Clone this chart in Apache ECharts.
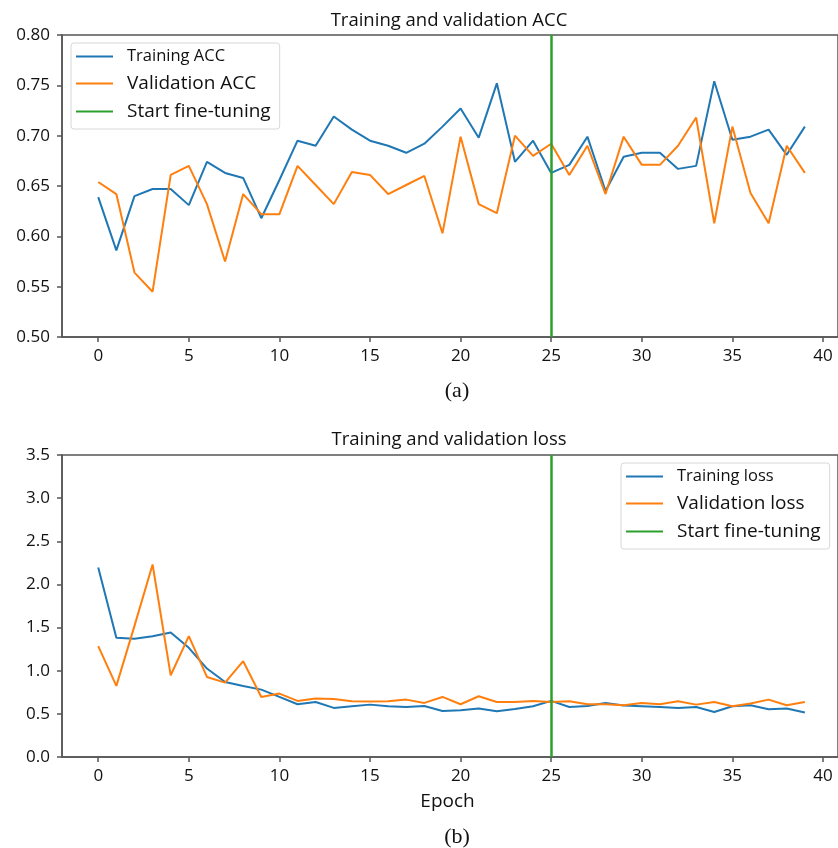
<!DOCTYPE html>
<html>
<head>
<meta charset="utf-8">
<script src="https://cdn.jsdelivr.net/npm/echarts@6/dist/echarts.min.js"></script>
<style>html,body{margin:0;padding:0;background:#fff}#c{width:838px;height:848px}</style>
</head>
<body>
<div id="c"></div>
<script>
const epochs = Array.from({length: 40}, (_, i) => i);
const trainAcc = [0.639,0.586,0.640,0.647,0.647,0.631,0.674,0.663,0.658,0.618,0.656,0.695,0.690,0.719,0.706,0.695,0.690,0.683,0.692,0.709,0.727,0.698,0.752,0.674,0.695,0.663,0.671,0.699,0.645,0.679,0.683,0.683,0.667,0.670,0.754,0.696,0.699,0.706,0.681,0.709];
const valAcc = [0.654,0.642,0.564,0.545,0.661,0.670,0.632,0.575,0.642,0.622,0.622,0.670,0.651,0.632,0.664,0.661,0.642,0.651,0.660,0.603,0.699,0.632,0.623,0.700,0.680,0.692,0.661,0.690,0.642,0.699,0.671,0.671,0.690,0.718,0.613,0.709,0.643,0.613,0.690,0.663];
const trainLoss = [2.197,1.381,1.370,1.400,1.443,1.265,1.025,0.870,0.824,0.781,0.696,0.611,0.638,0.569,0.588,0.607,0.588,0.580,0.592,0.534,0.541,0.561,0.530,0.557,0.588,0.650,0.580,0.592,0.627,0.596,0.588,0.580,0.569,0.580,0.522,0.588,0.600,0.553,0.561,0.515];
const valLoss = [1.284,0.824,1.520,2.231,0.947,1.400,0.928,0.862,1.110,0.696,0.735,0.650,0.677,0.673,0.646,0.642,0.646,0.665,0.627,0.696,0.611,0.704,0.638,0.638,0.650,0.638,0.646,0.611,0.611,0.600,0.627,0.611,0.646,0.607,0.638,0.588,0.619,0.665,0.600,0.638];
const fineTuneEpoch = 25;
const xTicks = [0,5,10,15,20,25,30,35,40];
const accTicks = [0.50,0.55,0.60,0.65,0.70,0.75,0.80];
const lossTicks = [0.0,0.5,1.0,1.5,2.0,2.5,3.0,3.5];
const titles = ['Training and validation ACC', 'Training and validation loss'];
const accNames = ['Training ACC', 'Validation ACC', 'Start fine-tuning'];
const lossNames = ['Training loss', 'Validation loss', 'Start fine-tuning'];

const FONT = 'Open Sans';
const BLUE = '#1f77b4', ORANGE = '#ff7f0e', GREEN = '#2ca02c', SPINE = '#555';
const LEG_ICON = 'path://M0,0H37V2.2H0Z';

function xAxisCfg(gi, showName) {
  return {
    type: 'value', gridIndex: gi, min: -2, max: 40.83,
    splitLine: {show: false},
    axisLine: {show: true, onZero: false, lineStyle: {color: SPINE, width: 1.5}},
    axisTick: {show: true, length: 5, customValues: xTicks, lineStyle: {color: SPINE, width: 1.5}},
    axisLabel: {customValues: xTicks, color: '#111', fontFamily: FONT, fontSize: 17, margin: 11},
    name: showName ? 'Epoch' : '', nameLocation: 'middle', nameGap: 35,
    nameTextStyle: {color: '#111', fontFamily: FONT, fontSize: 19, padding: [0, 0, 0, -5]}
  };
}
function yAxisCfg(gi, ticks, dec) {
  return {
    type: 'value', gridIndex: gi, min: ticks[0], max: ticks[ticks.length - 1],
    interval: ticks[1] - ticks[0],
    splitLine: {show: false},
    axisLine: {show: true, onZero: false, lineStyle: {color: SPINE, width: 1.5}},
    axisTick: {show: true, length: 5, lineStyle: {color: SPINE, width: 1.5}},
    axisLabel: {color: '#111', fontFamily: FONT, fontSize: 17, margin: 12,
      formatter: v => v.toFixed(dec)}
  };
}
function lineSeries(name, data, color, xi) {
  return {
    type: 'line', name: name, xAxisIndex: xi, yAxisIndex: xi,
    data: epochs.map((e, i) => [e, data[i]]),
    symbol: 'none', lineStyle: {color: color, width: 2}, itemStyle: {color: color},
    animation: false
  };
}
function fineSeries(xi) {
  return {
    type: 'line', name: 'Start fine-tuning', xAxisIndex: xi, yAxisIndex: xi,
    data: [], symbol: 'none', lineStyle: {color: GREEN, width: 2.5}, itemStyle: {color: GREEN},
    markLine: {silent: true, symbol: 'none', label: {show: false},
      lineStyle: {color: GREEN, width: 2.5, type: 'solid'},
      data: [{xAxis: fineTuneEpoch}], animation: false},
    animation: false
  };
}
function legendCfg(names, pos) {
  return Object.assign({
    orient: 'vertical', itemWidth: 37, itemHeight: 14, itemGap: 9,
    icon: LEG_ICON, symbolKeepAspect: true,
    backgroundColor: '#fff', borderColor: '#d8d8d8', borderWidth: 1, borderRadius: 3,
    padding: [5, 9, 8, 5],
    textStyle: {color: '#111', fontFamily: FONT, fontSize: 19, padding: [0, 0, 0, 9]},
    data: [{name: names[0], textStyle: {fontSize: 16.5}}, {name: names[1]}, {name: names[2]}]
  }, pos);
}

const chart = echarts.init(document.getElementById('c'), null, {renderer: 'canvas'});
chart.setOption({
  animation: false,
  backgroundColor: '#fff',
  title: [
    {text: titles[0], left: 444, top: 6, textAlign: 'center',
      textStyle: {fontFamily: FONT, fontSize: 18.5, fontWeight: 'normal', color: '#111'}},
    {text: titles[1], left: 444, top: 425, textAlign: 'center',
      textStyle: {fontFamily: FONT, fontSize: 18.5, fontWeight: 'normal', color: '#111'}},
    {text: '(a)', left: 452, top: 375, textAlign: 'center',
      textStyle: {fontFamily: 'Liberation Serif', fontSize: 22, fontWeight: 'normal', color: '#111'}},
    {text: '(b)', left: 452, top: 821, textAlign: 'center',
      textStyle: {fontFamily: 'Liberation Serif', fontSize: 22, fontWeight: 'normal', color: '#111'}}
  ],
  legend: [
    legendCfg(accNames, {left: 71, top: 43}),
    legendCfg(lossNames, {left: 621, top: 463})
  ],
  grid: [
    {left: 62, top: 35, width: 777, height: 302, show: true, borderColor: SPINE, borderWidth: 1.5},
    {left: 62, top: 455, width: 777, height: 302, show: true, borderColor: SPINE, borderWidth: 1.5}
  ],
  xAxis: [xAxisCfg(0, false), xAxisCfg(1, true)],
  yAxis: [yAxisCfg(0, accTicks, 2), yAxisCfg(1, lossTicks, 1)],
  series: [
    lineSeries(accNames[0], trainAcc, BLUE, 0),
    lineSeries(accNames[1], valAcc, ORANGE, 0),
    fineSeries(0),
    lineSeries(lossNames[0], trainLoss, BLUE, 1),
    lineSeries(lossNames[1], valLoss, ORANGE, 1),
    fineSeries(1)
  ]
});
</script>
</body>
</html>
